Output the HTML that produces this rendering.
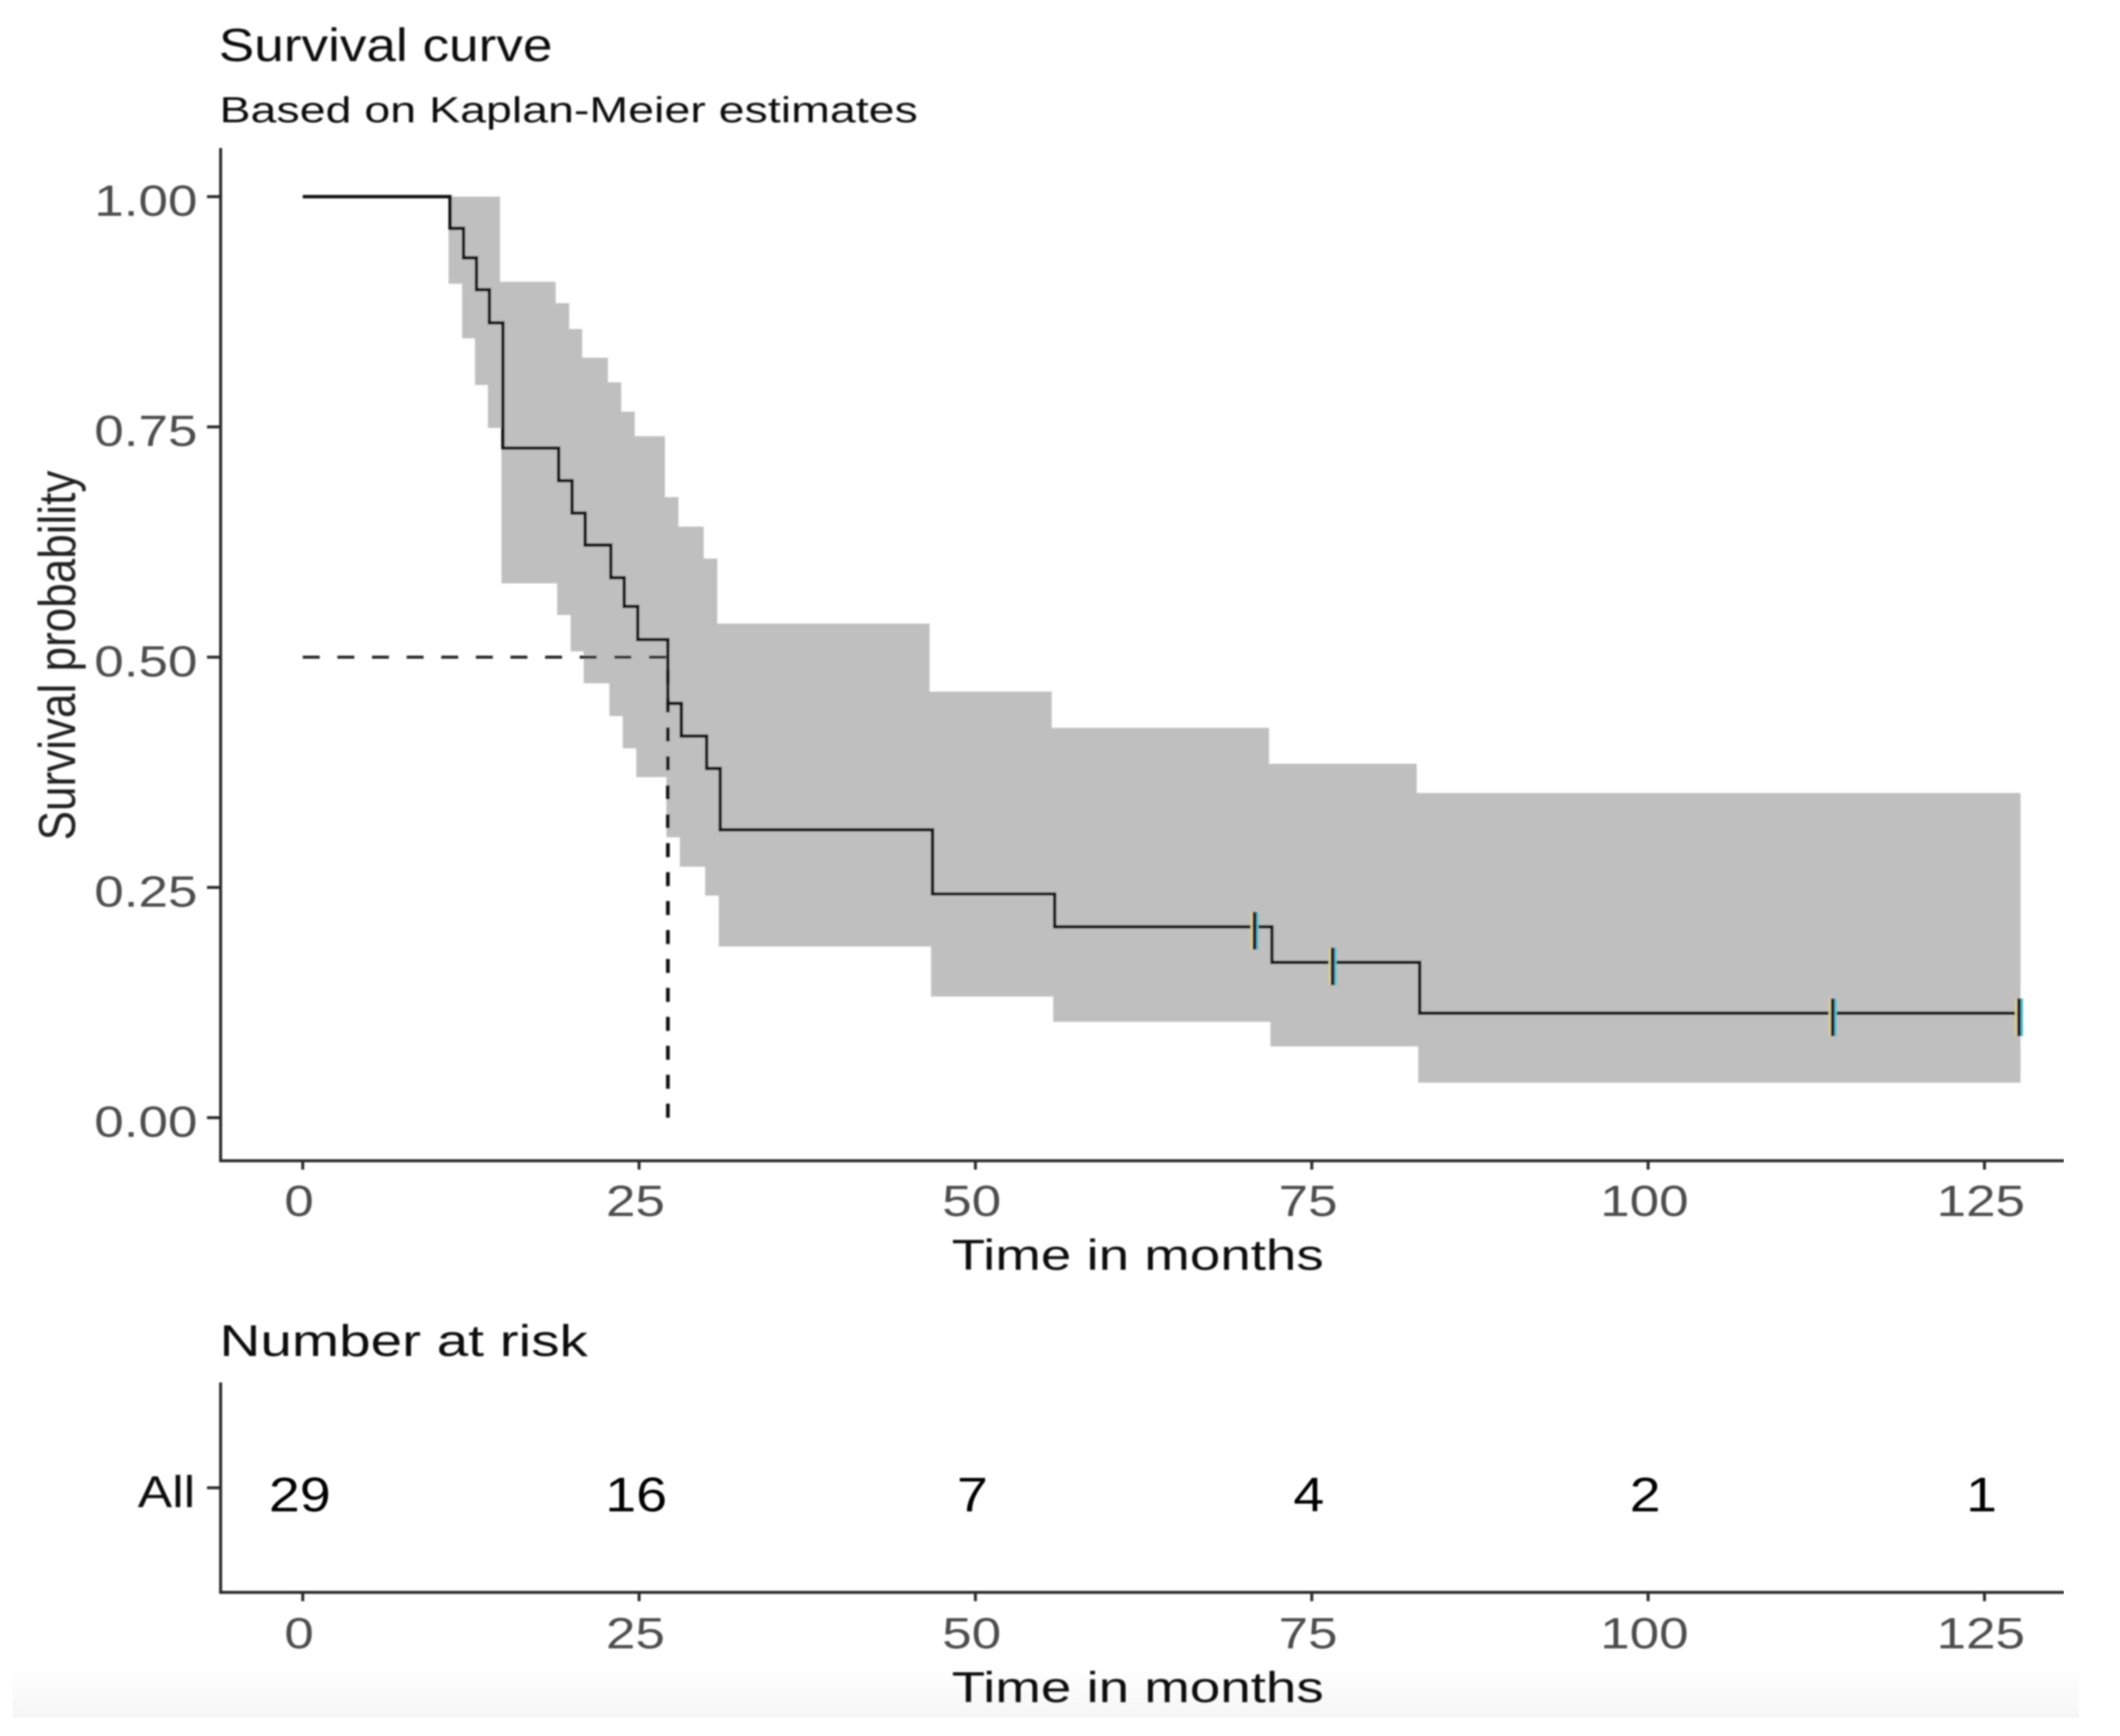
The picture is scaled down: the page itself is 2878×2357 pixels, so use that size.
<!DOCTYPE html>
<html lang="en">
<head>
<meta charset="utf-8">
<title>Survival curve</title>
<style>
html,body{margin:0;padding:0;background:#fff;}
svg{display:block;font-family:"Liberation Sans",Arial,sans-serif;}
</style>
</head>
<body>
<svg id="chart" xmlns="http://www.w3.org/2000/svg" width="2878" height="2357" viewBox="0 0 2878 2357">
  <defs>
    <linearGradient id="fade" x1="0" y1="0" x2="0" y2="1">
      <stop offset="0" stop-color="#ffffff"/>
      <stop offset="1" stop-color="#f6f6f6"/>
    </linearGradient>
    <filter id="soft" x="0" y="0" width="100%" height="100%" filterUnits="objectBoundingBox">
      <feGaussianBlur stdDeviation="1"/>
    </filter>
  </defs>
  <rect x="0" y="0" width="2878" height="2357" fill="#ffffff"/>
  <rect x="17" y="2262" width="2805" height="70" fill="url(#fade)"/>
  <g id="root" filter="url(#soft)">
    <text x="297" y="83" font-size="63" fill="#111" textLength="453" lengthAdjust="spacingAndGlyphs">Survival curve</text>
    <text x="298" y="166" font-size="49" fill="#111" textLength="948" lengthAdjust="spacingAndGlyphs">Based on Kaplan-Meier estimates</text>
    <text transform="translate(102,1141) rotate(-90) scale(1,1.18)" font-size="60" fill="#222" textLength="502" lengthAdjust="spacingAndGlyphs">Survival probability</text>
    <text x="1292" y="1724" font-size="58" fill="#111" textLength="505" lengthAdjust="spacingAndGlyphs">Time in months</text>
    <text x="298" y="1841" font-size="60" fill="#111" textLength="500" lengthAdjust="spacingAndGlyphs">Number at risk</text>
    <text x="265" y="2046" font-size="60" fill="#111" text-anchor="end" textLength="78" lengthAdjust="spacingAndGlyphs">All</text>
    <text x="1292" y="2311" font-size="58" fill="#111" textLength="505" lengthAdjust="spacingAndGlyphs">Time in months</text>
  </g>
</svg>
<script>
// Step times (months) at which the Kaplan-Meier curve drops
const stepTimes = [10.95, 11.95, 12.91, 13.87, 14.88, 19.02, 20.02, 20.99, 22.90, 23.89, 24.90, 27.14, 28.14, 30.02, 31.03, 46.81, 55.89, 72.04, 83.02];
// Survival probability after each drop
const survival = [0.9656, 0.9336, 0.899, 0.863, 0.727, 0.6916, 0.6564, 0.6217, 0.5863, 0.5551, 0.5191, 0.4498, 0.4144, 0.3792, 0.3125, 0.2429, 0.2073, 0.1686, 0.1134];
// Confidence band limits after each drop
const upperCI = [1.0, 1.0, 1.0, 1.0, 0.9075, 0.8843, 0.8563, 0.8251, 0.7985, 0.7665, 0.7399, 0.6737, 0.6417, 0.6071, 0.5364, 0.4626, 0.4232, 0.3842, 0.3525];
const lowerCI = [0.9054, 0.8462, 0.7955, 0.7489, 0.5802, 0.5458, 0.5063, 0.4716, 0.4360, 0.4010, 0.3698, 0.3045, 0.2725, 0.2411, 0.1859, 0.1315, 0.1041, 0.0774, 0.0380];
const censorTimes = [70.75, 76.55, 113.72, 127.57];
const followUpEnd = 127.57;
const medianSurvivalTime = 27.14;
const medianLevel = 0.5;
const yTicks = [0, 0.25, 0.5, 0.75, 1];
const yTickLabels = ["0.00", "0.25", "0.50", "0.75", "1.00"];
const xTicks = [0, 25, 50, 75, 100, 125];
const xTickLabels = ["0", "25", "50", "75", "100", "125"];
const riskCounts = [29, 16, 7, 4, 2, 1];

const svgNS = "http://www.w3.org/2000/svg";
const root = document.getElementById("root");
const xScale = t => 411 + 18.264 * t;
const yScale = s => 1517.5 - 1250.5 * s;

function el(tag, attrs, parent) {
  const node = document.createElementNS(svgNS, tag);
  for (const k in attrs) node.setAttribute(k, attrs[k]);
  (parent || root).appendChild(node);
  return node;
}
function tickText(str, x, y, size, fill, anchor, perChar) {
  const n = el("text", {x: x, y: y, "font-size": size, fill: fill, "text-anchor": anchor,
    textLength: perChar, lengthAdjust: "spacingAndGlyphs"});
  n.textContent = str;
  return n;
}
function survivalAt(t) {
  let s = 1;
  stepTimes.forEach((st, i) => { if (st <= t) s = survival[i]; });
  return s;
}

// Confidence band
(function () {
  const upperShift = -4, lowerShift = -2, endShift = 2;
  let d = "M" + (xScale(stepTimes[0]) + lowerShift) + " " + yScale(upperCI[0]);
  for (let i = 1; i < stepTimes.length; i++) {
    const px = xScale(stepTimes[i]) + upperShift;
    d += " H" + px + " V" + yScale(upperCI[i]);
  }
  const endX = xScale(followUpEnd) + endShift;
  d += " H" + endX + " V" + yScale(lowerCI[lowerCI.length - 1]);
  for (let i = stepTimes.length - 1; i >= 1; i--) {
    const px = xScale(stepTimes[i]) + lowerShift;
    d += " H" + px + " V" + yScale(lowerCI[i - 1]);
  }
  d += " H" + (xScale(stepTimes[0]) + lowerShift) + " Z";
  const band = el("path", {d: d, fill: "#bfbfbf"});
  
  
})();

// Median reference lines
const medianH = el("line", {x1: xScale(0), x2: xScale(medianSurvivalTime), y1: yScale(medianLevel), y2: yScale(medianLevel),
  stroke: "#222", "stroke-width": 4, "stroke-dasharray": "23 24"});


const medianV = el("line", {x1: xScale(medianSurvivalTime), x2: xScale(medianSurvivalTime), y1: yScale(0), y2: yScale(medianLevel),
  stroke: "#111", "stroke-width": 5, "stroke-dasharray": "19 20.3"});



// Survival step curve
(function () {
  let d = "M" + xScale(0) + " " + yScale(1);
  stepTimes.forEach((t, i) => {
    d += " H" + xScale(t) + " V" + yScale(survival[i]);
  });
  d += " H" + xScale(followUpEnd);
  const curve = el("path", {d: d, fill: "none", stroke: "#0a0a0a", "stroke-width": 4.6, "stroke-linejoin": "miter"});
  
  
})();

// Censoring marks (with the faint colour fringing seen in the source)
censorTimes.forEach(t => {
  const cx = xScale(t), cy = yScale(survivalAt(t));
  const g = el("g", {});
  
  
  el("line", {x1: cx - 4, x2: cx - 4, y1: cy - 20, y2: cy + 31, stroke: "#d8d08c", "stroke-width": 3}, g);
  el("line", {x1: cx + 4, x2: cx + 4, y1: cy - 20, y2: cy + 31, stroke: "#4cc4cf", "stroke-width": 3}, g);
  el("line", {x1: cx, x2: cx, y1: cy - 20, y2: cy + 31, stroke: "#2a0f30", "stroke-width": 5}, g);
});

// Main axes
const mainYAxis = el("line", {x1: 299.5, x2: 299.5, y1: 201, y2: 1578, stroke: "#2a2a2a", "stroke-width": 4});


const mainXAxis = el("line", {x1: 298, x2: 2802, y1: 1576, y2: 1576, stroke: "#2a2a2a", "stroke-width": 4});



yTicks.forEach((v, i) => {
  const py = yScale(v);
  const tick = el("line", {x1: 281, x2: 299, y1: py, y2: py, stroke: "#2a2a2a", "stroke-width": 4});
  
  
  const label = tickText(yTickLabels[i], 268, py + 26, 59, "#4d4d4d", "end", 140);
  
  
});

function drawXTicks(axisY, labelY, prefix) {
  xTicks.forEach((v, i) => {
    const px = xScale(v);
    const tick = el("line", {x1: px, x2: px, y1: axisY, y2: axisY + 12, stroke: "#2a2a2a", "stroke-width": 4});
    
    
    const label = tickText(xTickLabels[i], px - 5, labelY, 59, "#4d4d4d", "middle", 40 * xTickLabels[i].length);
    
    
  });
}
drawXTicks(1576, 1651, 'main');

// Risk table
const riskYAxis = el("line", {x1: 299.5, x2: 299.5, y1: 1877, y2: 2164, stroke: "#2a2a2a", "stroke-width": 4});


const riskXAxis = el("line", {x1: 298, x2: 2802, y1: 2162, y2: 2162, stroke: "#2a2a2a", "stroke-width": 4});


const riskTick = el("line", {x1: 281, x2: 299, y1: 2020, y2: 2020, stroke: "#2a2a2a", "stroke-width": 4});


drawXTicks(2162, 2238, 'risk');

riskCounts.forEach((c, i) => {
  const str = String(c);
  const n = tickText(str, xScale(xTicks[i]) - 4, 2052, 66, "#000", "middle", 42 * str.length);
  
  
});
</script>
</body>
</html>
